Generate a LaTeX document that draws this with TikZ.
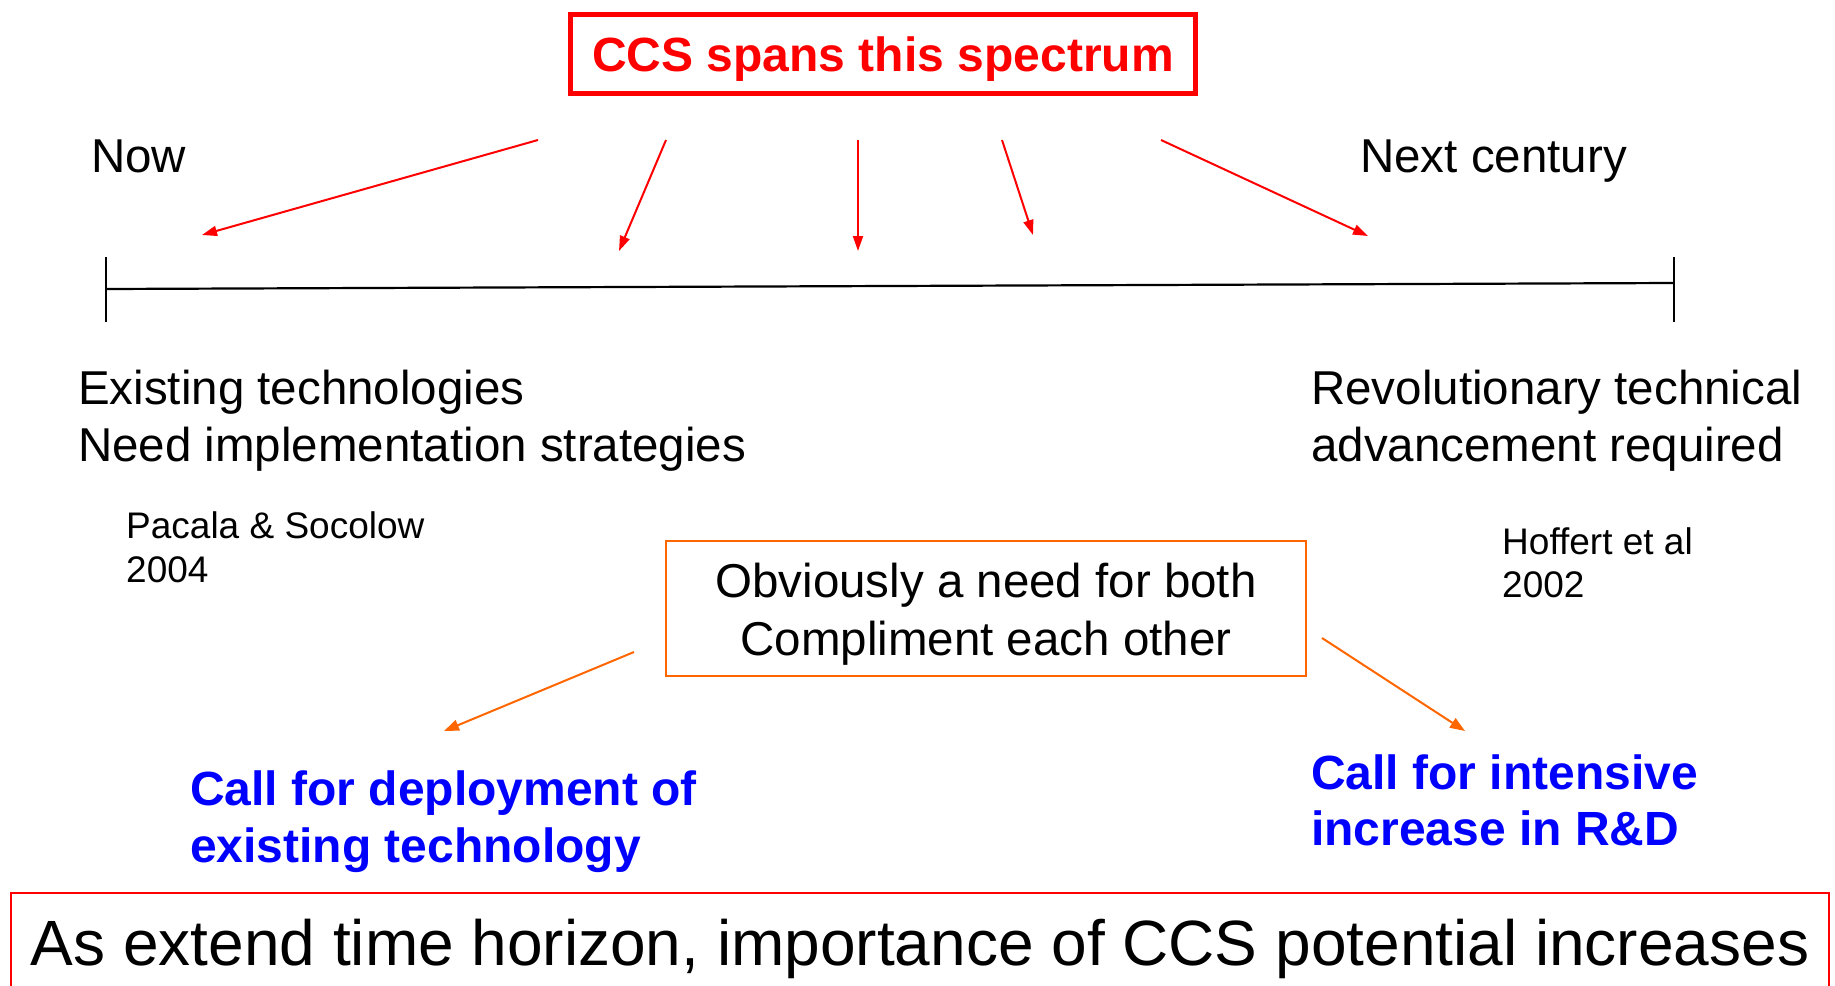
\documentclass[tikz,border=0pt]{standalone}
\usepackage{fontspec}
\setmainfont{Liberation Sans}
\usetikzlibrary{arrows.meta}
\definecolor{ccsred}{RGB}{255,0,0}
\definecolor{ccsorange}{RGB}{255,102,0}
\definecolor{ccsblue}{RGB}{0,0,255}

\begin{document}
\begin{tikzpicture}[x=1pt,y=-1pt,
  lbl/.style={inner sep=0pt, anchor=base west, font=\fontsize{47.5}{57}\selectfont},
  refnote/.style={inner sep=0pt, anchor=base west, font=\fontsize{37}{44}\selectfont},
  callout/.style={inner sep=0pt, anchor=base west, text=ccsblue, font=\fontsize{48}{57}\selectfont\bfseries},
  redarrow/.style={draw=ccsred, line width=2pt, -{Triangle[length=15pt,width=10pt]}},
  orangearrow/.style={draw=ccsorange, line width=2pt, -{Triangle[length=15pt,width=11pt]}},
  tick/.style={draw=black, line width=1.5pt},
]
\useasboundingbox (0,0) rectangle (1835,985);

% title box
\node[draw=ccsred, line width=5pt, minimum width=625pt, minimum height=79pt, inner sep=0pt]
  (titlebox) at (883,54) {};
\node[inner sep=0pt, anchor=base, text=ccsred, font=\fontsize{48}{57}\selectfont\bfseries]
  (title) at (883,71) {CCS spans this spectrum};

% end labels of the time axis
\node[lbl] (now) at (91,172) {Now};
\node[lbl] (next) at (1360,172) {Next century};

% time axis
\coordinate (axL) at (106,289);
\coordinate (axR) at (1674,283);
\draw[line width=2.2pt] (axL) -- (axR);
\draw[tick] (106,257) -- (106,322);
\draw[tick] (1674,257) -- (1674,322);

% arrows fanning out from the title
\coordinate (s1) at (538,140);  \coordinate (e1) at (202,235);
\coordinate (s2) at (666,140);  \coordinate (e2) at (619,251);
\coordinate (s3) at (858,140);  \coordinate (e3) at (858,251);
\coordinate (s4) at (1002,140); \coordinate (e4) at (1033,235);
\coordinate (s5) at (1161,140); \coordinate (e5) at (1368,236);
\draw[redarrow] (s1) -- (e1);
\draw[redarrow] (s2) -- (e2);
\draw[redarrow] (s3) -- (e3);
\draw[redarrow] (s4) -- (e4);
\draw[redarrow] (s5) -- (e5);

% descriptions under the axis
\node[lbl] (exist1) at (78,404) {Existing technologies};
\node[lbl] (exist2) at (78,461) {Need implementation strategies};
\node[lbl] (rev1) at (1311,404) {Revolutionary technical};
\node[lbl] (rev2) at (1311,461) {advancement required};

\node[refnote] (pac1) at (126,538) {Pacala \& Socolow};
\node[refnote] (pac2) at (126,582) {2004};
\node[refnote] (hof1) at (1502,554) {Hoffert et al};
\node[refnote] (hof2) at (1502,597) {2002};

% central box
\node[draw=ccsorange, line width=2pt, minimum width=640pt, minimum height=135pt, inner sep=0pt]
  (both) at (986,608.5) {};
\node[lbl, anchor=base] (both1) at (986,597) {Obviously a need for both};
\node[lbl, anchor=base] (both2) at (986,655) {Compliment each other};

\coordinate (oL) at (634,652); \coordinate (oLe) at (444,731);
\coordinate (oR) at (1322,638); \coordinate (oRe) at (1465,731);
\draw[orangearrow] (oL) -- (oLe);
\draw[orangearrow] (oR) -- (oRe);

% calls to action
\node[callout] (dep1) at (190,805) {Call for deployment of};
\node[callout] (dep2) at (190,862) {existing technology};
\node[callout] (rd1) at (1311,789) {Call for intensive};
\node[callout] (rd2) at (1311,845) {increase in R\&D};

% conclusion box, running past the lower edge
\draw[ccsred, line width=2pt] (11,1010) -- (11,893) -- (1829,893) -- (1829,1010);
\node[inner sep=0pt, anchor=base, font=\fontsize{64}{76}\selectfont]
  (concl) at (920,965) {As extend time horizon, importance of CCS potential increases};
\end{tikzpicture}
\end{document}
